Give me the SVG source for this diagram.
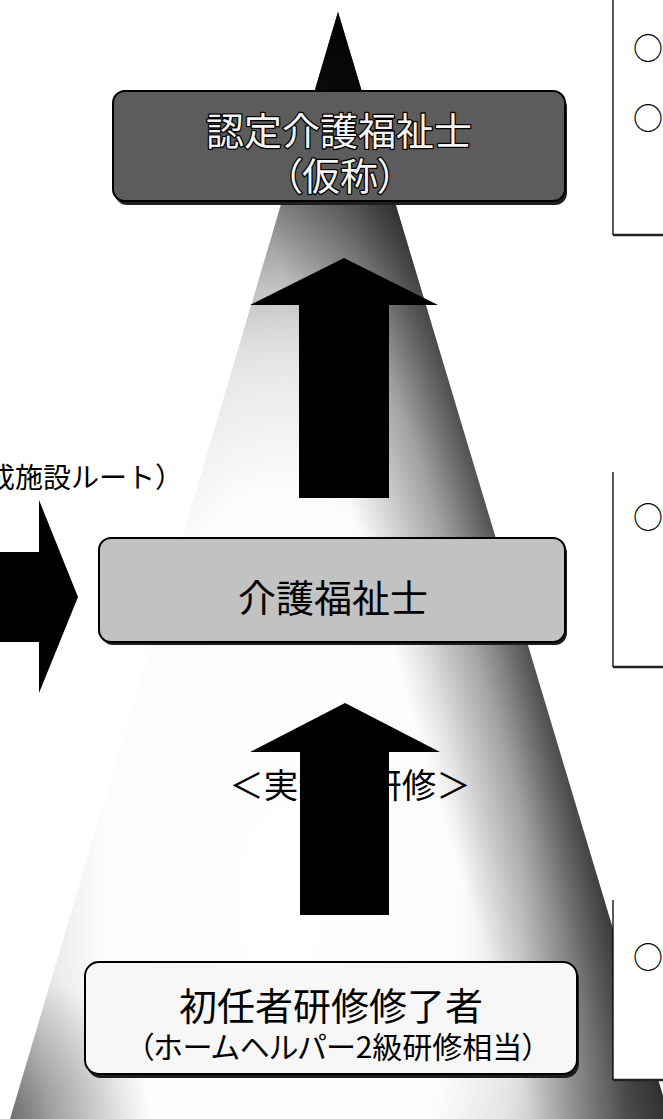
<svg xmlns="http://www.w3.org/2000/svg" width="663" height="1119" viewBox="0 0 663 1119">
<style>
  .jp{font-family:"Noto Sans CJK JP","Noto Sans CJK SC",sans-serif;text-anchor:middle;dominant-baseline:central}
  .palt{font-feature-settings:"palt"}
  .lbl-dark{fill:#f4f4f4;stroke:#000;stroke-width:2.6;paint-order:stroke;stroke-linejoin:round}
  .lbl{fill:#000}
  .frame{stroke:#000;stroke-width:2}
  .shadow{fill:#1e1e1e}
  .arrow{fill:#000}
  .note{fill:none;stroke:#000;stroke-width:1.3}
  .note-bottom{fill:none;stroke:#222;stroke-width:2.6}
  .bullet{font-family:"Noto Sans CJK JP",sans-serif;font-size:30px;fill:#000;dominant-baseline:central}
</style>
<defs>
  <radialGradient id="glow" gradientUnits="userSpaceOnUse" cx="0" cy="0" r="1" gradientTransform="translate(280 900) scale(360 820)">
    <stop offset="0" stop-color="#ffffff"/>
    <stop offset="0.5" stop-color="#fcfcfc"/>
    <stop offset="0.68" stop-color="#e4e4e4"/>
    <stop offset="0.82" stop-color="#b8b8b8"/>
    <stop offset="0.95" stop-color="#8c8c8c"/>
    <stop offset="1" stop-color="#7a7a7a"/>
  </radialGradient>
  <linearGradient id="topdark" gradientUnits="userSpaceOnUse" x1="0" y1="12" x2="0" y2="380">
    <stop offset="0" stop-color="#000" stop-opacity="0.95"/>
    <stop offset="0.25" stop-color="#000" stop-opacity="0.85"/>
    <stop offset="0.5" stop-color="#000" stop-opacity="0.25"/>
    <stop offset="0.75" stop-color="#000" stop-opacity="0.06"/>
    <stop offset="1" stop-color="#000" stop-opacity="0"/>
  </linearGradient>
  <linearGradient id="rightband" gradientUnits="userSpaceOnUse" x1="500" y1="552" x2="375" y2="589">
    <stop offset="0" stop-color="#000" stop-opacity="0.6"/>
    <stop offset="0.4" stop-color="#000" stop-opacity="0.3"/>
    <stop offset="1" stop-color="#000" stop-opacity="0"/>
  </linearGradient>
  <radialGradient id="cornerband" gradientUnits="userSpaceOnUse" cx="0" cy="1119" r="150">
    <stop offset="0" stop-color="#000" stop-opacity="0.45"/>
    <stop offset="1" stop-color="#000" stop-opacity="0"/>
  </radialGradient>
</defs>

<g id="pyramid">
  <polygon points="338,12 670,1119 10,1119" fill="url(#glow)"/>
  <polygon points="338,12 670,1119 10,1119" fill="url(#topdark)"/>
  <polygon points="338,12 670,1119 10,1119" fill="url(#rightband)"/>
  <polygon points="338,12 670,1119 10,1119" fill="url(#cornerband)"/>
</g>

<g id="connectors">
  <text class="jp lbl" x="350" y="783" font-size="34.5">＜実務者研修＞</text>
  <path class="arrow" d="M0,552 H39 V500 L78,597 L39,693 V642 H0 Z"/>
  <path class="arrow" d="M299,498 V305 H250 L344,258 L438,305 H389 V498 Z"/>
  <path class="arrow" d="M300,915 V752 H250 L345,703 L440,752 H389 V915 Z"/>
</g>

<g id="route-label">
  <text class="jp lbl" x="-13" y="476" font-size="28" style="text-anchor:start">成施設ルート）</text>
</g>

<g id="node-nintei">
  <rect class="shadow" x="115" y="95" width="452" height="110" rx="12"/>
  <rect class="frame" x="113" y="91" width="452" height="110" rx="12" fill="#5c5c5c"/>
  <text class="jp lbl-dark" x="339" y="128" font-size="38">認定介護福祉士</text>
  <text class="jp lbl-dark palt" x="340" y="173" font-size="38">（仮称）</text>
</g>

<g id="node-kaigo">
  <rect class="shadow" x="101" y="541" width="466" height="104" rx="12"/>
  <rect class="frame" x="99" y="538" width="466" height="104" rx="12" fill="#c2c2c2"/>
  <text class="jp lbl" x="333" y="595" font-size="38">介護福祉士</text>
</g>

<g id="node-shoninsha">
  <rect class="shadow" x="87" y="965" width="492" height="113" rx="14"/>
  <rect class="frame" x="85" y="962" width="492" height="112" rx="14" fill="#f7f7f7"/>
  <text class="jp lbl" x="331" y="1003" font-size="38">初任者研修修了者</text>
  <text class="jp lbl palt" x="338" y="1045" font-size="30">（ホームヘルパー2級研修相当）</text>
</g>

<g id="note-top">
  <rect x="613" y="0" width="50" height="235" fill="#fff"/>
  <path class="note" d="M613,0 V235"/>
  <path class="note-bottom" d="M613,235 H663"/>
  <text class="bullet" x="633" y="46">○</text>
  <text class="bullet" x="633" y="116">○</text>
</g>

<g id="note-middle">
  <rect x="613" y="472" width="50" height="195" fill="#fff"/>
  <path class="note" d="M613,472 V667"/>
  <path class="note-bottom" d="M613,667 H663"/>
  <text class="bullet" x="633" y="515">○</text>
</g>

<g id="note-bottom">
  <rect x="613" y="900" width="50" height="180" fill="#fff"/>
  <path class="note" d="M613,900 V1080"/>
  <path class="note-bottom" d="M613,1080 H663"/>
  <text class="bullet" x="633" y="955">○</text>
</g>
</svg>
